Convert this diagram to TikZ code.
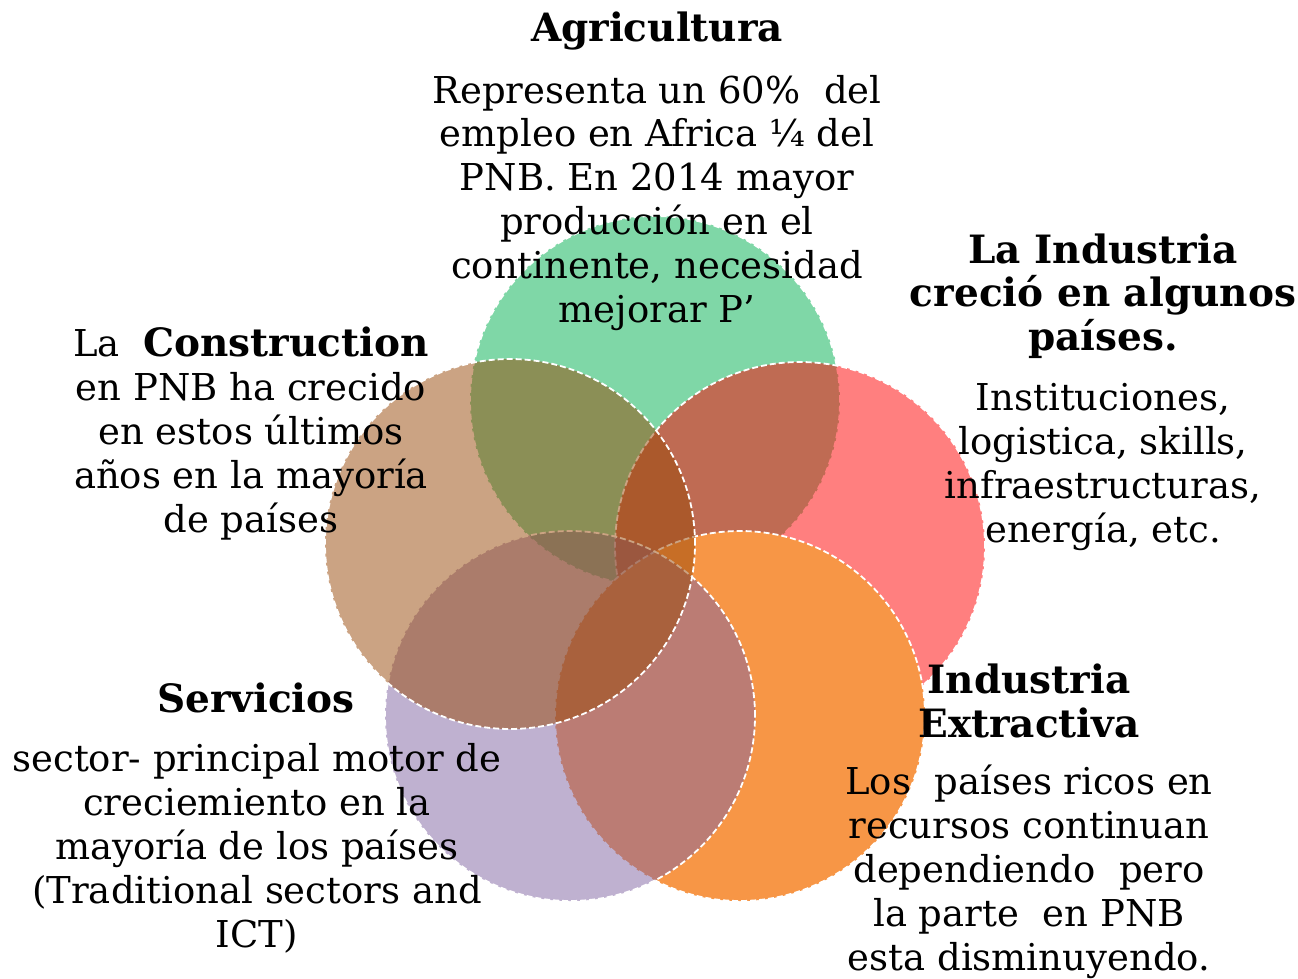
\documentclass[tikz,border=0pt]{standalone}
\usepackage{fontspec}
\setmainfont{DejaVu Serif}
\definecolor{cgreen}{HTML}{00B050}
\definecolor{cred}{HTML}{FF0000}
\definecolor{corange}{HTML}{F79646}
\definecolor{cpurple}{HTML}{8064A2}
\definecolor{cbrown}{HTML}{984807}
\begin{document}
\begin{tikzpicture}[x=1pt,y=-1pt,
  venn/.style={circle,minimum size=370pt,inner sep=0pt,draw=white,line width=1.8pt,dash pattern=on 6pt off 3pt},
  body/.style={align=center,font=\fontsize{37}{43.8}\selectfont,inner sep=0pt,anchor=base},
  title/.style={body,font=\bfseries\fontsize{39}{43.5}\selectfont}]
\useasboundingbox (0,0) rectangle (1298,979);
\node[venn,fill=cgreen,fill opacity=0.5] (agr) at (655,401) {};
\node[venn,fill=cred,fill opacity=0.5] (ind) at (800,547) {};
\node[venn,fill=corange] (ext) at (740,716) {};
\node[venn,fill=cpurple,fill opacity=0.5] (ser) at (570,716) {};
\node[venn,fill=cbrown,fill opacity=0.5] (con) at (510,544) {};

\node[title] (agrT) at (657,42) {Agricultura};
\node[body] (agrB) at (657,322) {Representa un 60\%~ del\\empleo en Africa ¼ del\\PNB. En 2014 mayor\\producción en el\\continente, necesidad\\mejorar P’};

\node[title] (indT) at (1103,350) {La Industria\\creció en algunos\\países.};
\node[body] (indB) at (1103,542) {Instituciones,\\logistica, skills,\\infraestructuras,\\energía, etc.};

\node[body] (conB) at (251,532) {La~ \textbf{\fontsize{39}{43.8}\selectfont Construction}\\en PNB ha crecido\\en estos últimos\\años en la mayoría\\de países};

\node[title] (serT) at (256,712) {Servicios};
\node[body] (serB) at (257,947) {sector- principal motor de\\creciemiento en la\\mayoría de los países\\(Traditional sectors and\\ICT)};

\node[title] (extT) at (1029,737) {Industria\\Extractiva};
\node[body] (extB) at (1029,970) {Los~ países ricos en\\recursos continuan\\dependiendo~ pero\\la parte~ en PNB\\esta disminuyendo.};
\end{tikzpicture}
\end{document}
